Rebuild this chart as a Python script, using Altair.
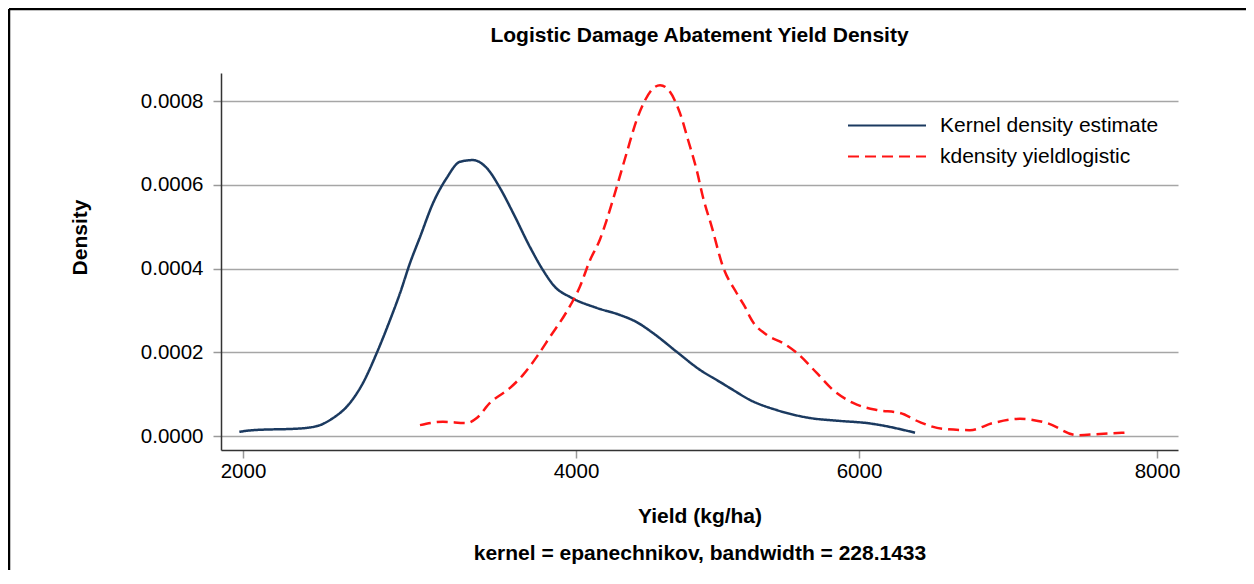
import altair as alt
import pandas as pd

# ---- data ----
series_names = ["Kernel density estimate", "kdensity yieldlogistic"]

blue_x = [1978, 2060, 2342, 2462, 2541, 2623, 2721, 2803, 2883, 2943,
          3003, 3063, 3141, 3223, 3303, 3381, 3464, 3544, 3622, 3724,
          3802, 3874, 3964, 4146, 4311, 4429, 4544, 4712, 4876, 5018,
          5110, 5230, 5418, 5654, 5866, 6052, 6376]
blue_y_e4 = [0.10, 0.14, 0.18, 0.26, 0.43, 0.70, 1.27, 1.98, 2.77, 3.41,
             4.13, 4.75, 5.56, 6.16, 6.55, 6.59, 6.40, 5.92, 5.33, 4.51,
             3.96, 3.56, 3.32, 3.06, 2.89, 2.72, 2.46, 2.01, 1.58, 1.29,
             1.10, 0.86, 0.62, 0.43, 0.36, 0.31, 0.08]

red_x = [3063, 3201, 3344, 3404, 3483, 3604, 3682, 3764, 3844, 3944,
         4028, 4099, 4170, 4217, 4288, 4358, 4429, 4488, 4544, 4594,
         4664, 4735, 4792, 4853, 4897, 4959, 5039, 5136, 5206, 5230,
         5350, 5463, 5562, 5703, 5816, 5958, 6121, 6275, 6409, 6564,
         6745, 6899, 7080, 7262, 7463, 7617, 7785]
red_y_e4 = [0.26, 0.34, 0.31, 0.43, 0.79, 1.15, 1.46, 1.89, 2.37, 2.97,
            3.57, 4.20, 4.70, 5.16, 5.95, 6.76, 7.55, 8.02, 8.30, 8.38,
            8.22, 7.71, 7.07, 6.35, 5.71, 5.00, 4.04, 3.41, 3.01, 2.84,
            2.41, 2.22, 1.98, 1.50, 1.10, 0.79, 0.62, 0.55, 0.33, 0.17,
            0.14, 0.31, 0.41, 0.31, 0.02, 0.05, 0.08]

x_ticks = [2000, 4000, 6000, 8000]
y_ticks = [0.0, 0.0002, 0.0004, 0.0006, 0.0008]

title_text = "Logistic Damage Abatement Yield Density"
x_title = ["Yield (kg/ha)", "kernel = epanechnikov, bandwidth = 228.1433"]
y_title = "Density"

# ---- build table ----
rows = []
for xv, yv in zip(blue_x, blue_y_e4):
    rows.append({"yield": xv, "density": yv * 1e-4, "series": series_names[0], "order": xv})
for xv, yv in zip(red_x, red_y_e4):
    rows.append({"yield": xv, "density": yv * 1e-4, "series": series_names[1], "order": xv})
df = pd.DataFrame(rows)

FONT = "Arial, Liberation Sans, sans-serif"
W, H = 957, 377
PAD_L, PAD_T, PAD_R, PAD_B = 213, 65, 68, 120

x_scale = alt.Scale(domain=[1868, 2000, 4000, 6000, 8000, 8141],
                    range=[0, 22, 355, 638, 936, 957], nice=False, zero=False)
y_scale = alt.Scale(domain=[-0.0000334, 0.000867], nice=False, zero=False)

legend_kw = dict(title=None, orient="none", legendX=626, legendY=38,
                 symbolType="stroke", symbolSize=6084,
                 symbolStrokeWidth=2, clipHeight=29, rowPadding=2,
                 labelFontSize=21, labelColor="#000000",
                 labelOffset=13, labelLimit=0, padding=0)

lines = alt.Chart(df).mark_line(strokeWidth=2.5, interpolate="monotone").encode(
    x=alt.X("yield:Q", scale=x_scale,
            axis=alt.Axis(values=x_ticks, format="d", title=x_title, grid=False,
                          tickSize=8, tickColor="#999999", tickWidth=1.5,
                          domainColor="#333333", domainWidth=1.5,
                          labelFontSize=20.5, labelColor="#000000", labelPadding=3,
                          titleFontSize=21, titleFontWeight="bold", titleColor="#000000",
                          titleLineHeight=37, titleY=55, titleBaseline="top")),
    y=alt.Y("density:Q", scale=y_scale,
            axis=alt.Axis(values=y_ticks, format=".4f", title=y_title,
                          grid=True, gridColor="#a6a6a6", gridWidth=1.5,
                          tickSize=8, tickColor="#999999", tickWidth=1.5,
                          domainColor="#333333", domainWidth=1.5,
                          labelFontSize=20.5, labelColor="#000000", labelPadding=10,
                          titleFontSize=21, titleFontWeight="bold", titleColor="#000000",
                          titleX=-141, titleY=164, titleAngle=-90,
                          titleAlign="center", titleBaseline="middle")),
    color=alt.Color("series:N",
                    scale=alt.Scale(domain=series_names, range=["#1b3a60", "#ff1414"]),
                    legend=alt.Legend(**legend_kw)),
    strokeDash=alt.StrokeDash("series:N",
                              scale=alt.Scale(domain=series_names, range=[[1, 0], [11, 6]]),
                              legend=alt.Legend(**legend_kw)),
    order="order:Q",
)

one = pd.DataFrame({"k": [0]})
frame_top = alt.Chart(one).mark_rule(color="#000000", strokeWidth=2.5).encode(
    x=alt.value(-PAD_L + 1), x2=alt.value(W + PAD_R), y=alt.value(-PAD_T + 1))
frame_left = alt.Chart(one).mark_rule(color="#000000", strokeWidth=2.5).encode(
    x=alt.value(-PAD_L + 1), y=alt.value(-PAD_T + 1), y2=alt.value(H + PAD_B))

chart = alt.layer(lines, frame_top, frame_left).properties(
    width=W, height=H,
    autosize=alt.AutoSizeParams(type="none"),
    padding={"left": PAD_L, "top": PAD_T, "right": PAD_R, "bottom": PAD_B},
    title=alt.TitleParams(text=title_text, fontSize=21, fontWeight="bold", font=FONT,
                          color="#000000", anchor="middle", frame="group", offset=-38),
).configure(font=FONT, background="#ffffff").configure_view(strokeWidth=0)

chart.save("out.html", embed_options={"renderer": "svg", "actions": False})
